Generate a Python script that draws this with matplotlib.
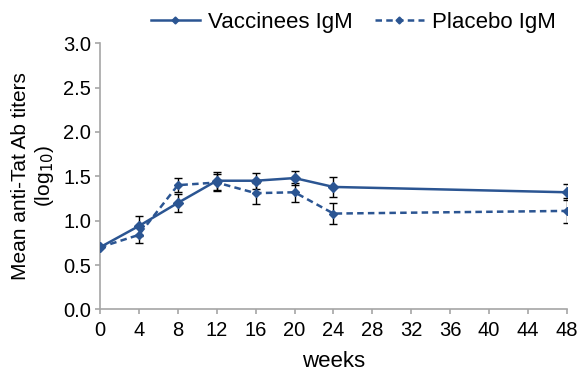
import matplotlib
matplotlib.use("Agg")
import matplotlib.pyplot as plt

plt.rcParams['font.family'] = ['Liberation Sans', 'DejaVu Sans']

weeks = [0, 4, 8, 12, 16, 20, 24, 48]

vacc = [0.70, 0.94, 1.20, 1.45, 1.45, 1.48, 1.38, 1.32]
vacc_err = [0.0, 0.11, 0.10, 0.10, 0.09, 0.08, 0.11, 0.09]

plac = [0.70, 0.84, 1.40, 1.43, 1.31, 1.32, 1.08, 1.11]
plac_err = [0.0, 0.09, 0.08, 0.10, 0.12, 0.11, 0.12, 0.14]

xticks = list(range(0, 49, 4))
yticks = [0.0, 0.5, 1.0, 1.5, 2.0, 2.5, 3.0]

blue = '#2b5592'
grey = '#a6a6a6'

fig = plt.figure(figsize=(5.85, 3.82), dpi=100)
ax = fig.add_axes([0.171, 0.19, 0.798, 0.697])

# error bars first so the lines sit on top
ax.errorbar(weeks, vacc, yerr=vacc_err, fmt='none', ecolor='black',
            elinewidth=1.0, capsize=2.7, capthick=1.0, zorder=2)
ax.errorbar(weeks, plac, yerr=plac_err, fmt='none', ecolor='black',
            elinewidth=1.0, capsize=2.7, capthick=1.0, zorder=2)

ax.plot(weeks, vacc, color=blue, lw=1.8, marker='D', ms=5,
        label='Vaccinees IgM', zorder=3)
ax.plot(weeks, plac, color=blue, lw=1.8, ls=(0, (2.6, 1.7)), marker='D', ms=4,
        label='Placebo IgM', zorder=3)

ax.set_xlim(0, 48)
ax.set_ylim(0, 3.0)
ax.set_xticks(xticks)
ax.set_yticks(yticks)
ax.set_yticklabels([f'{v:.1f}' for v in yticks])
ax.tick_params(labelsize=14.5, color=grey, length=3.5, width=1.2)
ax.tick_params(axis='x', pad=5)
ax.tick_params(axis='y', pad=3)

for s in ['top', 'right']:
    ax.spines[s].set_visible(False)
for s in ['left', 'bottom']:
    ax.spines[s].set_color(grey)
    ax.spines[s].set_linewidth(1.2)

ax.set_xlabel('weeks', fontsize=16, labelpad=8)
ax.set_ylabel('Mean anti-Tat Ab titers\n(log$_{10}$)', fontsize=15,
              linespacing=1.2, labelpad=5)

leg = fig.legend(loc='center', bbox_to_anchor=(0.604, 0.942), ncol=2,
                 frameon=False, fontsize=16, handlelength=2.2,
                 columnspacing=1.0, handletextpad=0.36)
for h in leg.legend_handles:
    h.set_markersize(3.5)

fig.savefig('out.png', dpi=100)
